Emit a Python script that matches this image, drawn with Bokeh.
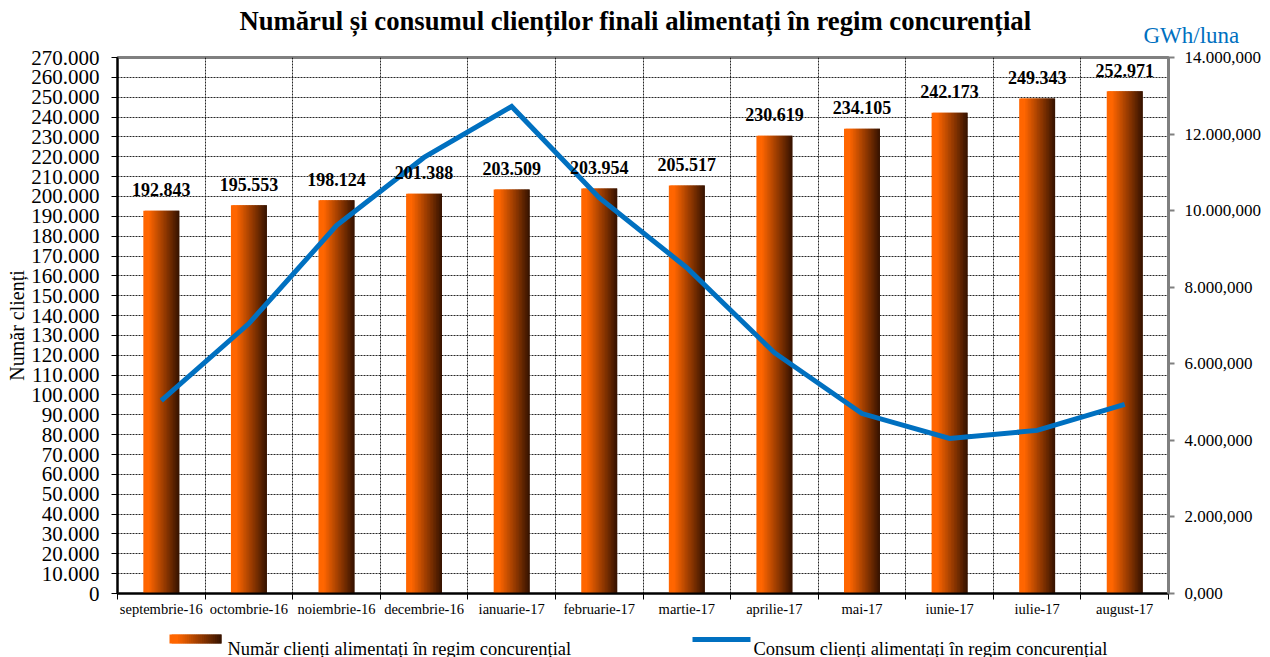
import numpy as np
from bokeh.plotting import figure
from bokeh.models import ColumnDataSource, Range1d, LinearAxis, FixedTicker
from bokeh.layouts import column
from bokeh.core.properties import value
from bokeh.embed import file_html
from bokeh.resources import INLINE

# ---------------- data ----------------
months = ["septembrie-16", "octombrie-16", "noiembrie-16", "decembrie-16", "ianuarie-17",
          "februarie-17", "martie-17", "aprilie-17", "mai-17", "iunie-17", "iulie-17", "august-17"]
clients = [192843, 195553, 198124, 201388, 203509, 203954, 205517, 230619, 234105, 242173, 249343, 252971]
consum = [5040000, 7050000, 9610000, 11390000, 12720000, 10340000, 8510000, 6290000, 4700000,
          4050000, 4260000, 4940000]
left_ticks = list(range(0, 270001, 10000))
right_ticks = list(range(0, 14000001, 2000000))
title_text = "Numărul și consumul clienților finali alimentați în regim concurențial"
unit_text = "GWh/luna"
ylabel_text = "Număr clienți"
legend_bar = "Număr clienți alimentați în regim concurențial"
legend_line = "Consum clienți alimentați în regim concurențial"

SERIF = "Liberation Serif"
ORANGE = np.array([255, 102, 0])
DARK = np.array([52, 18, 0])
BLUE = "#0070C0"


def grad_colors(n):
    cols = []
    for i in range(n):
        t = (i + 0.5) / n
        s = min(max((t - 0.15) / 0.85, 0.0), 1.0)
        c = ORANGE * (1 - s) + DARK * s
        cols.append("#%02x%02x%02x" % tuple(int(round(v)) for v in c))
    return cols


def fmt_dot(v):
    return f"{v:,}".replace(",", ".")


def fmt_right(v):
    s = f"{v / 1000:,.3f}"
    return s.replace(",", "X").replace(".", ",").replace("X", ".")


def no_align(fig):
    try:
        fig.frame_align = False
    except Exception:
        pass


W = 1270
HH, HM, HL = 46, 575, 36
n_cat = len(months)
xc = np.arange(n_cat) + 0.5          # category centres
xb = list(range(n_cat + 1))          # category boundaries
NS = 24
cols = grad_colors(NS)

# ---------------- header (title + unit) ----------------
hdr = figure(width=W, height=HH, x_range=Range1d(0, W), y_range=Range1d(0, HH),
             x_axis_location=None, y_axis_location=None, toolbar_location=None,
             output_backend="svg", min_border=0, outline_line_color=None)
no_align(hdr)
hdr.grid.visible = False
hdr.text(x=[635], y=[HH - 20], text=[title_text], text_align="center", text_baseline="middle",
         text_font=value(SERIF), text_font_style="bold", text_font_size="26.7px", text_color="black")
hdr.text(x=[1143], y=[HH - 34.5], text=[unit_text], text_align="left", text_baseline="middle",
         text_font=value(SERIF), text_font_size="23px", text_color=BLUE)

# ---------------- main chart ----------------
src = ColumnDataSource(dict(x=xc, c=clients, k=consum, lab=[fmt_dot(v) for v in clients]))

p = figure(width=W, height=HM, x_range=Range1d(0, n_cat), y_range=Range1d(0, 270000),
           toolbar_location=None, output_backend="svg",
           min_border_left=117, min_border_right=102, min_border_top=11, min_border_bottom=28)
no_align(p)
p.extra_y_ranges = {"right": Range1d(0, 14000000)}
p.outline_line_color = "#808080"
p.outline_line_width = 3
p.background_fill_color = "white"
p.border_fill_color = "white"

# left axis
ya = p.yaxis[0]
ya.ticker = FixedTicker(ticks=left_ticks)
ya.major_label_overrides = {t: ("0" if t == 0 else fmt_dot(t)) for t in left_ticks}
ya.major_label_text_font = SERIF
ya.major_label_text_font_size = "21px"
ya.major_label_text_color = "black"
ya.major_label_standoff = 12
ya.major_tick_out = 6
ya.major_tick_in = 0
ya.minor_tick_line_color = None
ya.axis_line_color = "black"
ya.axis_line_width = 2
ya.major_tick_line_color = "black"
ya.axis_label = ylabel_text
ya.axis_label_text_font = SERIF
ya.axis_label_text_font_size = "20px"
ya.axis_label_text_font_style = "normal"
ya.axis_label_text_color = "black"
ya.axis_label_standoff = 0

# horizontal grid
p.ygrid.ticker = FixedTicker(ticks=left_ticks)
p.ygrid.grid_line_color = "black"
p.ygrid.grid_line_dash = "2 1"
p.ygrid.grid_line_alpha = 0.85
p.ygrid.grid_line_width = 1

# right axis
ra = LinearAxis(y_range_name="right", ticker=FixedTicker(ticks=right_ticks))
ra.major_label_overrides = {t: fmt_right(t) for t in right_ticks}
ra.major_label_text_font = SERIF
ra.major_label_text_font_size = "17px"
ra.major_label_text_color = "black"
ra.major_label_standoff = 10
ra.major_tick_out = 6
ra.major_tick_in = 0
ra.minor_tick_line_color = None
ra.axis_line_color = "#808080"
ra.axis_line_width = 3
ra.major_tick_line_color = "#808080"
ra.major_tick_line_width = 2
p.add_layout(ra, "right")

# bottom axis: labels at centres, ticks at boundaries (minor ticks)
xa = p.xaxis[0]
xa.ticker = FixedTicker(ticks=list(xc), minor_ticks=xb)
xa.major_label_overrides = {float(x): m for x, m in zip(xc, months)}
xa.major_label_text_font = SERIF
xa.major_label_text_font_size = "14.5px"
xa.major_label_text_color = "black"
xa.major_label_standoff = 1
xa.major_tick_line_color = None
xa.major_tick_out = 0
xa.major_tick_in = 0
xa.minor_tick_out = 6
xa.minor_tick_in = 0
xa.minor_tick_line_color = "black"
xa.axis_line_color = "black"
xa.axis_line_width = 2

# vertical grid at category boundaries
p.xgrid.ticker = FixedTicker(ticks=list(xc), minor_ticks=xb)
p.xgrid.grid_line_color = None
p.xgrid.minor_grid_line_color = "black"
p.xgrid.minor_grid_line_dash = "2 1"
p.xgrid.minor_grid_line_alpha = 0.85
p.xgrid.minor_grid_line_width = 1

# gradient bars (overlapping slices, drawn left to right)
BAR_W = 0.41
sw = BAR_W / NS
for i, col in enumerate(cols):
    left = xc - BAR_W / 2 + i * sw
    right = xc - BAR_W / 2 + min(i + 2, NS) * sw
    p.quad(left=left, right=right, top=clients, bottom=0, fill_color=col, line_color=None)

# consumption line
p.line(x="x", y="k", source=src, y_range_name="right", line_color=BLUE, line_width=5,
       line_join="miter")

# value labels
p.text(x="x", y="c", text="lab", source=src, text_align="center", text_baseline="middle",
       y_offset=-21, text_font=value(SERIF), text_font_style="bold", text_font_size="18px",
       text_color="black")

# ---------------- legend strip ----------------
lg = figure(width=W, height=HL, x_range=Range1d(0, W), y_range=Range1d(0, HL),
            x_axis_location=None, y_axis_location=None, toolbar_location=None,
            output_backend="svg", min_border=0, outline_line_color=None)
no_align(lg)
lg.grid.visible = False
top_px = 657 - HL  # page y of legend strip top
edges = np.linspace(169, 221, NS + 1)
lg.quad(left=edges[:-1], right=[edges[min(i + 2, NS)] for i in range(NS)],
        bottom=[top_px + HL - 643] * NS, top=[top_px + HL - 634] * NS,
        fill_color=cols, line_color=None)
lg.text(x=[227], y=[top_px + HL - 648], text=[legend_bar], text_align="left",
        text_baseline="alphabetic", text_font=value(SERIF), text_font_size="18.5px",
        text_color="black")
lg.line(x=[692, 750], y=[top_px + HL - 639] * 2, line_color=BLUE, line_width=5)
lg.text(x=[753], y=[top_px + HL - 648], text=[legend_line], text_align="left",
        text_baseline="alphabetic", text_font=value(SERIF), text_font_size="18.5px",
        text_color="black")

layout = column(hdr, p, lg, spacing=0)
open("out.html", "w").write(file_html(layout, INLINE))
